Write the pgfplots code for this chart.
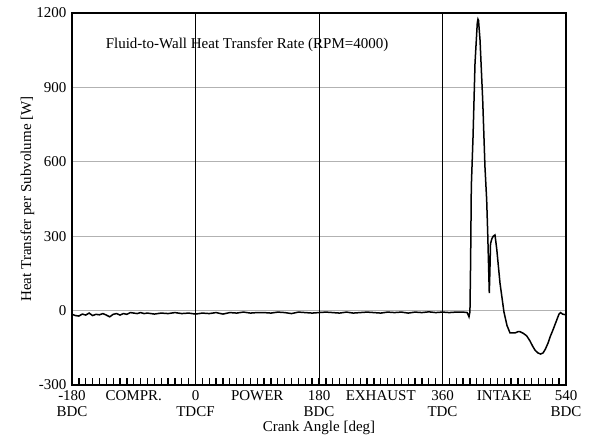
\documentclass[border=0pt]{standalone}
\usepackage{fontspec}
\setmainfont{Liberation Serif}
\usepackage{pgfplots}
\pgfplotsset{compat=1.18}
\begin{document}
\begin{tikzpicture}
\begin{axis}[
  scale only axis, width=494bp, height=372bp,
  xmin=-180, xmax=540, ymin=-300, ymax=1200,
  axis line style={line width=1.6bp},
  font=\fontsize{15bp}{16bp}\selectfont,
  xtick={-180,-90,0,90,180,270,360,450,540},
  xticklabels={{-180\\BDC},{COMPR.},{0\\TDCF},{POWER},{180\\BDC},{EXHAUST},{360\\TDC},{INTAKE},{540\\BDC}},
  xticklabel style={align=center, anchor=north, yshift=-2bp},
  major tick length=0pt,
  ytick={-300,0,300,600,900,1200},
  yticklabels={-300,0,300,600,900,1200},
  yticklabel style={xshift=-2bp},
  ymajorgrids,
  major grid style={gray!60, line width=0.8bp},
  xlabel={Crank Angle [deg]},
  ylabel={Heat Transfer per Subvolume [W]},
  xlabel style={at={(axis description cs:0.5,-0.116)}, anchor=center},
  ylabel style={at={(axis description cs:-0.09,0.5)}, anchor=center},
  clip=false,
]
\draw[black, line width=0.8bp] (axis cs:0,-300) -- (axis cs:0,1200);
\draw[black, line width=0.8bp] (axis cs:180,-300) -- (axis cs:180,1200);
\draw[black, line width=0.8bp] (axis cs:360,-300) -- (axis cs:360,1200);
\pgfplotsinvokeforeach{-170,-160,...,530}{
  \draw[black, line width=1.3bp] (axis cs:#1,-300) -- (axis cs:#1,-272);
}
\addplot[black, line width=1.5bp] coordinates {
(-180,-15) (-175,-20) (-170,-22) (-165,-14) (-160,-18) (-155,-10) (-150,-20) (-145,-15)
(-140,-17) (-135,-12) (-130,-18) (-125,-25) (-120,-15) (-115,-12) (-110,-18) (-105,-12)
(-100,-15) (-95,-8) (-90,-10) (-85,-12) (-80,-8) (-75,-12) (-70,-10) (-60,-14) (-50,-10)
(-40,-12) (-30,-8) (-20,-12) (-10,-10) (0,-14) (10,-10) (20,-12) (30,-8) (40,-14) (50,-8)
(60,-10) (70,-6) (80,-10) (90,-8) (100,-8) (110,-10) (120,-6) (130,-8) (140,-12) (150,-6)
(160,-8) (170,-10) (180,-8) (190,-6) (200,-8) (210,-10) (220,-6) (230,-10) (240,-8)
(250,-6) (260,-8) (270,-10) (280,-6) (290,-8) (300,-6) (310,-10) (320,-6) (330,-8)
(340,-5) (350,-8) (360,-6) (370,-8) (380,-6) (390,-6) (396,-8) (398.6,-25) (400,-5)
(401,200) (402,500) (404.5,700) (407.4,998) (410.7,1160) (411.7,1175) (412.5,1170)
(414.7,1091) (418.6,849) (421.9,579) (424.4,446) (425.9,313) (428.2,71) (429,150)
(430,270) (432,290) (434,300) (436.5,305) (439,250) (443.8,111) (449.6,-6) (454,-60)
(458.4,-90) (465.7,-90) (470,-85) (473,-85) (478,-92) (482.7,-102) (487,-120)
(491.9,-146) (495,-160) (499.2,-171) (503,-175) (506.5,-171) (510,-155) (513.8,-131)
(517,-105) (521,-78) (526.5,-38) (529.8,-14) (532,-8) (535,-14) (539.6,-17)
};
\node[anchor=west, inner sep=0pt] at (axis cs:-131,1072) {Fluid-to-Wall Heat Transfer Rate (RPM=4000)};
\coordinate (O) at (rel axis cs:0,0);
\end{axis}
\pgfresetboundingbox
\path ([shift={(-72bp,-55bp)}]O) rectangle ([shift={(517bp,385bp)}]O);
\end{tikzpicture}
\end{document}
